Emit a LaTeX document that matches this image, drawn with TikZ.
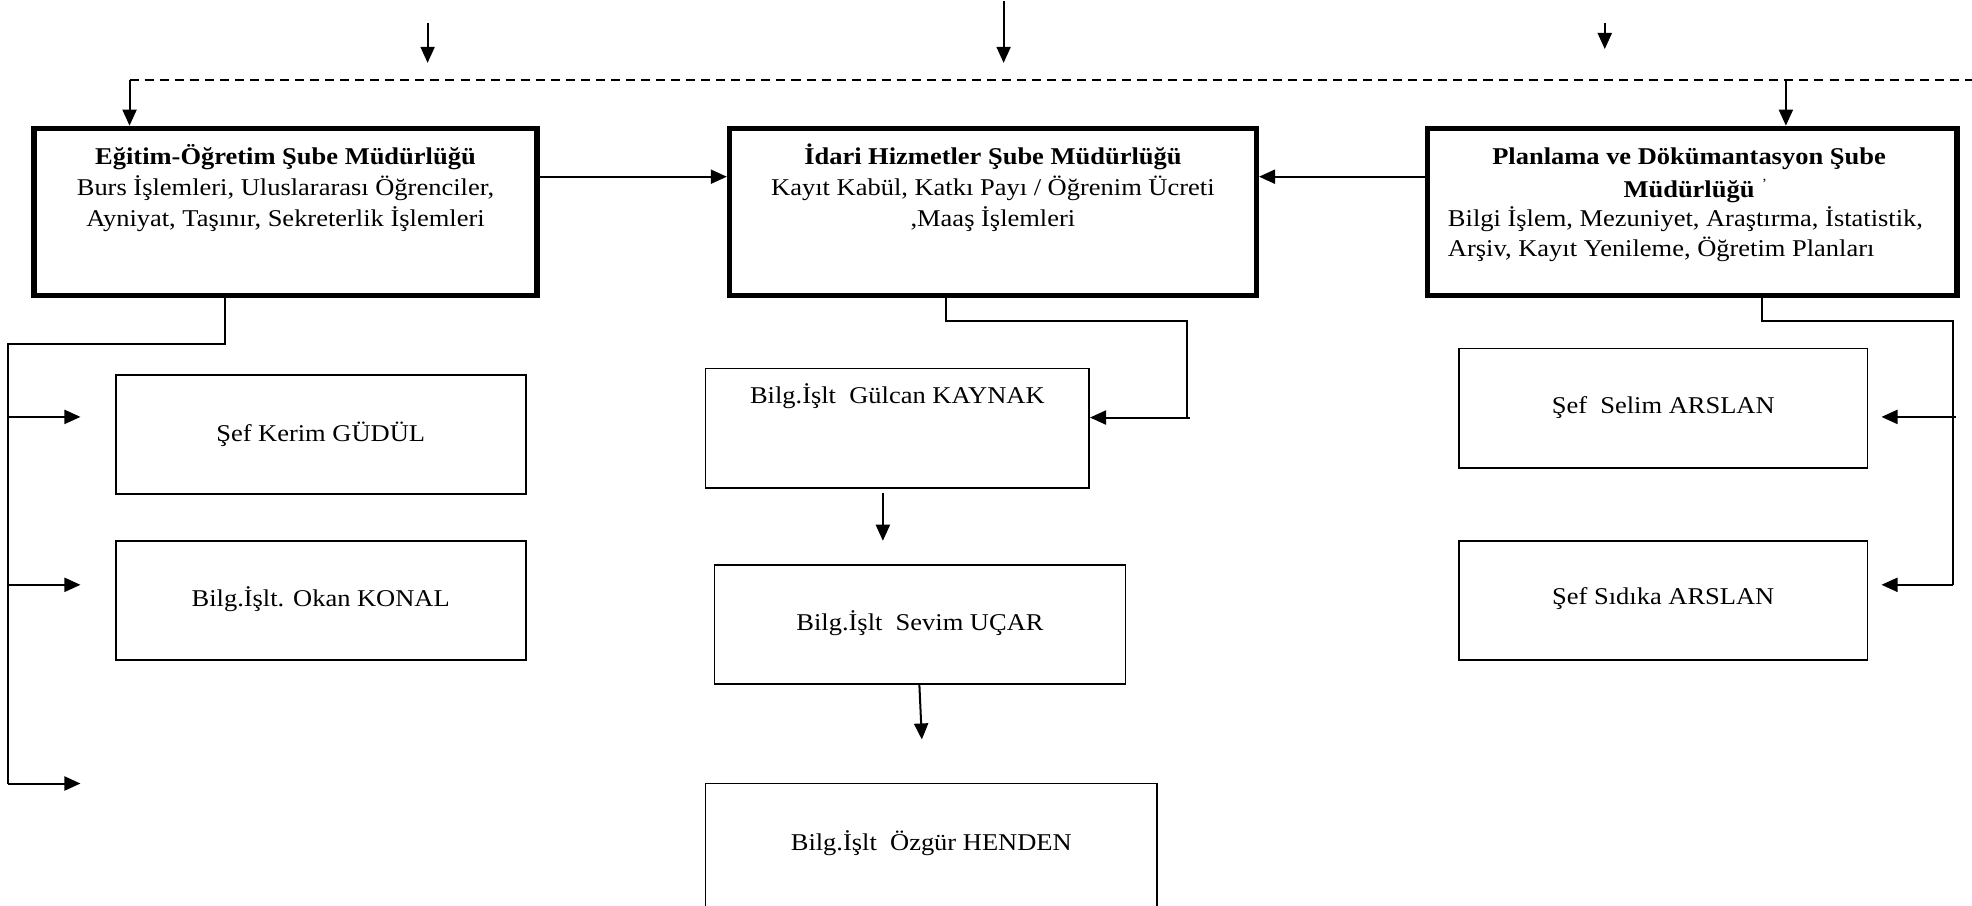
\documentclass[tikz,border=0pt]{standalone}
\usepackage{fontspec}
\setmainfont{Liberation Serif}[FakeStretch=1.1]
\usetikzlibrary{arrows.meta,fit}
\begin{document}
\begin{tikzpicture}[x=0.627pt,y=-0.627pt,
  thickbox/.style={draw,line width=2.6pt,inner sep=0pt},
  thinbox/.style={draw,line width=0.85pt,inner sep=0pt},
  txt/.style={font=\fontsize{12}{14}\selectfont,anchor=base,inner sep=0pt},
  conn/.style={line width=1pt},
  arr/.style={line width=1pt,-{Triangle[length=8pt,width=7pt]}},
]
\fill[white] (0,0) rectangle (1568,720);
\useasboundingbox (0,0) rectangle (1568,720);

% main boxes
\node[thickbox,fit={(27,102)(427,235)}] (b1) {};
\node[thickbox,fit={(580,102)(999,235)}] (b2) {};
\node[thickbox,fit={(1135,102)(1556,235)}] (b3) {};

\node[txt] (t1a) at (227,131) {\textbf{Eğitim-Öğretim Şube Müdürlüğü}};
\node[txt] (t1b) at (227,155.5) {Burs İşlemleri, Uluslararası Öğrenciler,};
\node[txt] (t1c) at (227,180) {Ayniyat, Taşınır, Sekreterlik İşlemleri};

\node[txt] (t2a) at (789.5,131) {\textbf{İdari Hizmetler Şube Müdürlüğü}};
\node[txt] (t2b) at (789.5,155.5) {Kayıt Kabül, Katkı Payı / Öğrenim Ücreti};
\node[txt] (t2c) at (789.5,180) {,Maaş İşlemleri};

\node[txt] (t3a) at (1343,131) {\textbf{Planlama ve Dökümantasyon Şube}};
\node[txt] (t3b) at (1343,157) {\textbf{Müdürlüğü}};
\node[txt,font=\fontsize{7}{7}\selectfont] (t3m) at (1403,150) {'};
\node[txt,anchor=base west] (t3c) at (1151,180) {Bilgi İşlem, Mezuniyet, Araştırma, İstatistik,};
\node[txt,anchor=base west] (t3d) at (1151,204) {Arşiv, Kayıt Yenileme, Öğretim Planları};

% sub boxes
\node[thinbox,fit={(92,298)(418,393)}] (k1) {};
\node[txt] (k1t) at (k1.center |- 0,351) {Şef Kerim GÜDÜL};
\node[thinbox,fit={(92,430)(418,525)}] (k2) {};
\node[txt] (k2t) at (k2.center |- 0,482) {Bilg.İşlt. Okan KONAL};

\node[thinbox,fit={(561,293)(866,388)}] (g1) {};
\node[txt] (g1t) at (g1.center |- 0,321) {Bilg.İşlt\ \ Gülcan KAYNAK};
\node[thinbox,fit={(568,449)(895,544)}] (g2) {};
\node[txt] (g2t) at (g2.center |- 0,501) {Bilg.İşlt\ \ Sevim UÇAR};
\node[thinbox,fit={(561,623)(920,722)}] (g3) {};
\node[txt] (g3t) at (g3.north |- 0,676) {Bilg.İşlt\ \ Özgür HENDEN};

\node[thinbox,fit={(1160,277)(1485,372)}] (s1) {};
\node[txt] (s1t) at (s1.center |- 0,329) {Şef\ \ Selim ARSLAN};
\node[thinbox,fit={(1160,430)(1485,525)}] (s2) {};
\node[txt] (s2t) at (s2.center |- 0,481) {Şef Sıdıka ARSLAN};

% top arrows
\coordinate (a1s) at (340,18); \coordinate (a1e) at (340,50);
\coordinate (a2s) at (798,1);  \coordinate (a2e) at (798,50);
\coordinate (a3s) at (1276,18); \coordinate (a3e) at (1276,39);
\draw[arr] (a1s) -- (a1e);
\draw[arr] (a2s) -- (a2e);
\draw[arr] (a3s) -- (a3e);

% dashed line
\coordinate (d0) at (103,64); \coordinate (d1) at (1568,64); \coordinate (d2) at (1420,64);
\draw[conn,dash pattern=on 4.5pt off 3pt] (d0) -- (d1);
\draw[arr] (d0) -- (d0 |- b1.north);
\draw[arr] (d2) -- (d2 |- b3.north);

% between main boxes
\draw[arr] (b1.east |- 0,140.5) -- (b2.west |- 0,140.5);
\draw[arr] (b3.west |- 0,140.5) -- (b2.east |- 0,140.5);

% left branch
\coordinate (l0) at (6.5,273.5); \coordinate (l1) at (6.5,623);
\coordinate (la) at (64,331.5); \coordinate (lb) at (64,465); \coordinate (lc) at (64,623);
\draw[conn] (b1.south -| 179,0) |- (l0) -- (l1);
\draw[arr] (la -| l0) -- (la);
\draw[arr] (lb -| l0) -- (lb);
\draw[arr] (l1) -- (lc);

% middle branch
\coordinate (m0) at (944,255); \coordinate (m0b) at (944,332);
\draw[conn] (b2.south -| 752,0) |- (m0) -- (m0b);
\draw[arr] (946,332) -- (g1.east |- 0,332);
\coordinate (m1) at (702,392); \coordinate (m2) at (702,430);
\draw[arr] (m1) -- (m2);
\coordinate (m3) at (731,544); \coordinate (m4) at (733,588);
\draw[arr] (m3) -- (m4);

% right branch
\coordinate (r0) at (1553,255); \coordinate (r1) at (1553,465);
\coordinate (ra) at (1496,331.5); \coordinate (rb) at (1496,465);
\draw[conn] (b3.south -| 1401,0) |- (r0) -- (r1);
\draw[arr] (1555,331.5) -- (ra);
\draw[arr] (r1) -- (rb);
\end{tikzpicture}
\end{document}
